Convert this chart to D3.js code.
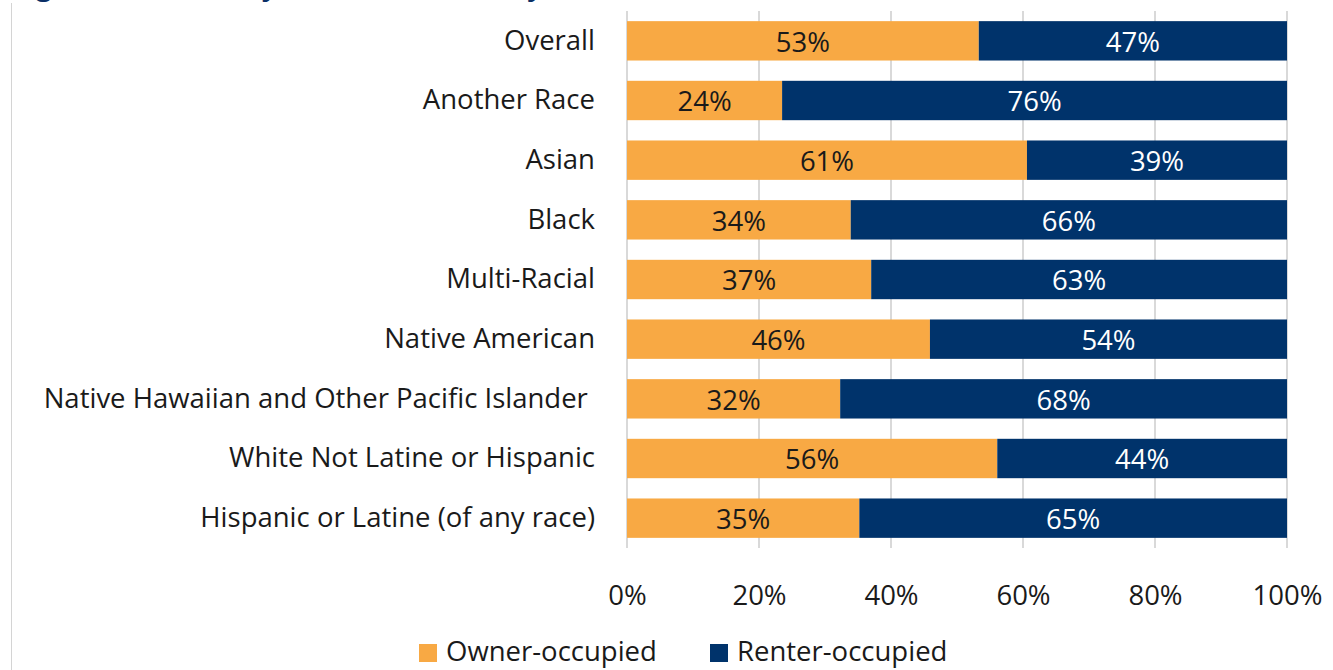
<!DOCTYPE html>
<html>
<head>
<meta charset="utf-8">
<script src="https://cdn.jsdelivr.net/npm/d3@7"></script>
<style>
  body { margin: 0; background: #fff; }
  svg { display: block; font-family: "Open Sans", "Noto Sans", sans-serif; }
</style>
</head>
<body>
<div id="vis"></div>
<script>
// data
const CATEGORIES = ["Overall", "Another Race", "Asian", "Black", "Multi-Racial", "Native American",
  "Native Hawaiian and Other Pacific Islander ", "White Not Latine or Hispanic", "Hispanic or Latine (of any race)"];
const OWNER = [53.3, 23.5, 60.6, 33.9, 37.0, 45.9, 32.3, 56.1, 35.2];
const RENTER = [46.7, 76.5, 39.4, 66.1, 63.0, 54.1, 67.7, 43.9, 64.8];
const OWNER_LABELS = ["53%", "24%", "61%", "34%", "37%", "46%", "32%", "56%", "35%"];
const RENTER_LABELS = ["47%", "76%", "39%", "66%", "63%", "54%", "68%", "44%", "65%"];
const TICKS = [0, 20, 40, 60, 80, 100];
const SERIES = ["Owner-occupied", "Renter-occupied"];
const TITLE = "Figure 5: Tenure by Race and Ethnicity";

// frame
const FRAME_WIDTH = 1333;
const FRAME_HEIGHT = 670;
const PLOT = {left: 627, right: 1287, top: 11, bottom: 548};
const COLORS = {owner: "#f8a944", renter: "#00336b"};
const FONT_SIZE = "27.5px";

const svg = d3.select("#vis")
  .append("svg")
  .attr("width", FRAME_WIDTH)
  .attr("height", FRAME_HEIGHT);

// cut-off title at the very top (only descenders show, like the reference)
svg.append("text")
  .attr("x", 12)
  .attr("y", -5)
  .attr("fill", "#0a2f66")
  .attr("font-size", "28px")
  .attr("font-weight", "bold")
  .text(TITLE);

// left border of the chart area
svg.append("line")
  .attr("x1", 11.5).attr("x2", 11.5)
  .attr("y1", 3).attr("y2", FRAME_HEIGHT)
  .attr("stroke", "#d4d4d4")
  .attr("stroke-width", 1);

const X_SCALE = d3.scaleLinear()
  .domain([0, 100])
  .range([PLOT.left, PLOT.right]);

const Y_SCALE = d3.scaleBand()
  .domain(CATEGORIES)
  .range([PLOT.top, PLOT.bottom])
  .paddingInner(0.34)
  .paddingOuter(0.17);

// gridlines
svg.append("g")
  .selectAll("line")
  .data(TICKS)
  .join("line")
    .attr("x1", d => X_SCALE(d)).attr("x2", d => X_SCALE(d))
    .attr("y1", PLOT.top).attr("y2", PLOT.bottom)
    .attr("stroke", "#d9d9d9")
    .attr("stroke-width", 2);

const rows = CATEGORIES.map((c, i) => ({
  cat: c, owner: OWNER[i], renter: RENTER[i], ol: OWNER_LABELS[i], rl: RENTER_LABELS[i]
}));

// owner bars
svg.append("g")
  .selectAll("rect")
  .data(rows)
  .join("rect")
    .attr("x", X_SCALE(0))
    .attr("y", d => Y_SCALE(d.cat))
    .attr("width", d => X_SCALE(d.owner) - X_SCALE(0))
    .attr("height", Y_SCALE.bandwidth())
    .attr("fill", COLORS.owner);

// renter bars
svg.append("g")
  .selectAll("rect")
  .data(rows)
  .join("rect")
    .attr("x", d => X_SCALE(d.owner))
    .attr("y", d => Y_SCALE(d.cat))
    .attr("width", d => X_SCALE(d.owner + d.renter) - X_SCALE(d.owner))
    .attr("height", Y_SCALE.bandwidth())
    .attr("fill", COLORS.renter);

// value labels
const mid = d => Y_SCALE(d.cat) + Y_SCALE.bandwidth() / 2;
svg.append("g")
  .attr("font-size", FONT_SIZE)
  .attr("text-anchor", "middle")
  .selectAll("text")
  .data(rows)
  .join("text")
    .attr("x", d => X_SCALE(d.owner / 2))
    .attr("y", d => mid(d) + 1)
    .attr("dy", "0.36em")
    .attr("fill", "#1a1a1a")
    .text(d => d.ol);

svg.append("g")
  .attr("font-size", FONT_SIZE)
  .attr("text-anchor", "middle")
  .selectAll("text")
  .data(rows)
  .join("text")
    .attr("x", d => X_SCALE(d.owner + d.renter / 2))
    .attr("y", d => mid(d) + 1)
    .attr("dy", "0.36em")
    .attr("fill", "#ffffff")
    .text(d => d.rl);

// category axis
const yAxis = svg.append("g")
  .attr("transform", "translate(" + PLOT.left + ",0)")
  .call(d3.axisLeft(Y_SCALE).tickSize(0).tickPadding(32));
yAxis.select(".domain").remove();
yAxis.selectAll("text")
  .attr("font-size", FONT_SIZE)
  .attr("font-family", "\"Open Sans\", sans-serif")
  .attr("fill", "#1a1a1a")
  .style("white-space", "pre");

// percent axis
const xAxis = svg.append("g")
  .attr("transform", "translate(0," + PLOT.bottom + ")")
  .call(d3.axisBottom(X_SCALE).tickValues(TICKS).tickSize(0).tickPadding(37).tickFormat(d => d + "%"));
xAxis.select(".domain").remove();
xAxis.selectAll("text")
  .attr("font-size", FONT_SIZE)
  .attr("font-family", "\"Open Sans\", sans-serif")
  .attr("fill", "#1a1a1a");

// legend
const LEGEND_X = [419, 710];
const legend = svg.append("g")
  .selectAll("g")
  .data(SERIES)
  .join("g")
    .attr("transform", (d, i) => "translate(" + LEGEND_X[i] + ",644)");
legend.append("rect")
  .attr("width", 18).attr("height", 18)
  .attr("fill", (d, i) => i === 0 ? COLORS.owner : COLORS.renter);
legend.append("text")
  .attr("x", 27)
  .attr("y", 7)
  .attr("dy", "0.36em")
  .attr("font-size", FONT_SIZE)
  .attr("fill", "#1a1a1a")
  .text(d => d);
</script>
</body>
</html>
